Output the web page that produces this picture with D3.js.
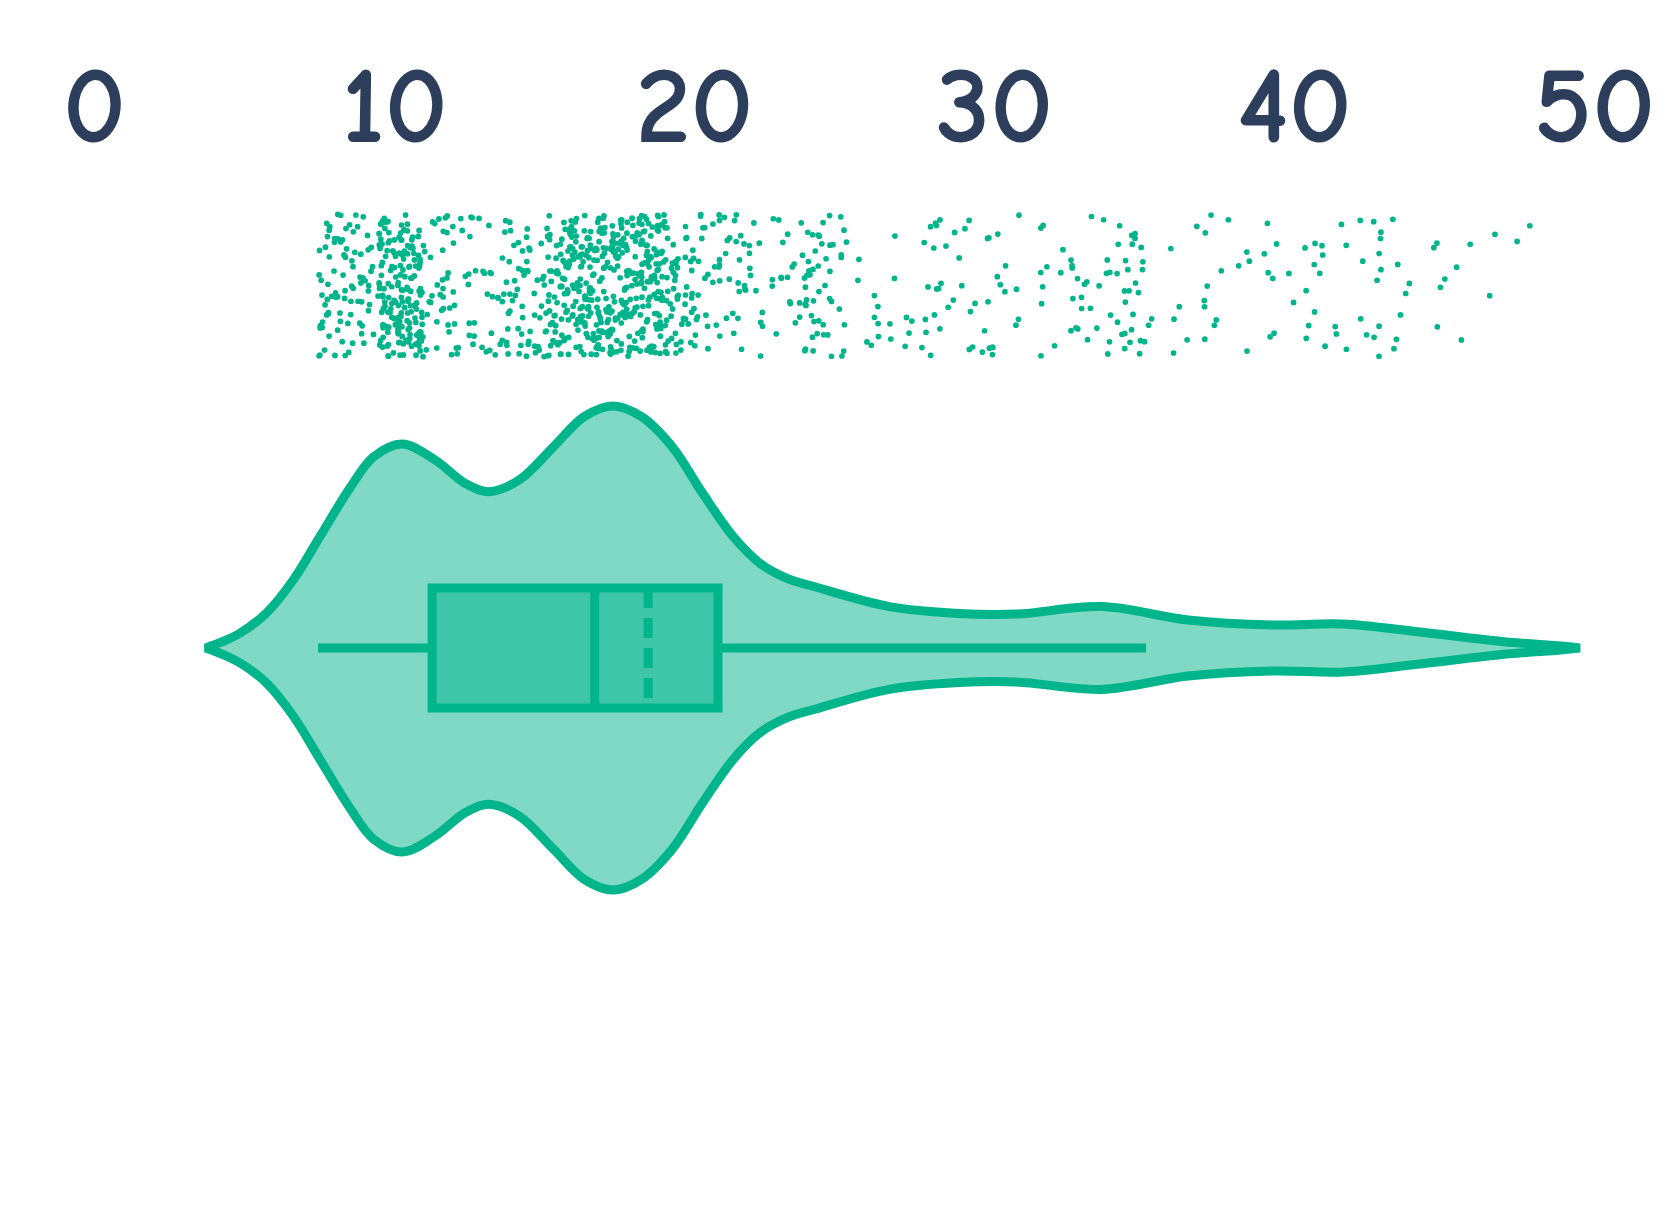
<!DOCTYPE html>
<html>
<head>
<meta charset="utf-8">
<script src="https://cdn.jsdelivr.net/npm/d3@7"></script>
<style>
  html, body { margin: 0; padding: 0; background: #ffffff; }
  svg { display: block; }
</style>
</head>
<body>
<svg id="chart" width="1680" height="1210"></svg>
<script>
// ---------------- data ----------------
const tickValues = [0, 10, 20, 30, 40, 50];

// violin outline: value and relative density (peak = 1)
const violinValues  = [3.72, 4.28, 4.86, 5.75, 6.64, 7.53, 8.56, 9.32, 10.28, 11.37, 12.38, 13.15, 14.17, 15.32, 16.34, 17.3, 18.25, 19.27, 20.29, 21.31, 22.2, 23.1, 24.03, 26.51, 28.81, 30.72, 33.59, 36.47, 39.33, 41.63, 44.12, 47.0, 48.9, 49.53];
const violinDensity = [0, 0.026, 0.061, 0.145, 0.281, 0.46, 0.667, 0.79, 0.843, 0.777, 0.68, 0.646, 0.694, 0.832, 0.956, 1.0, 0.956, 0.832, 0.639, 0.46, 0.35, 0.288, 0.253, 0.171, 0.143, 0.140, 0.171, 0.116, 0.095, 0.099, 0.067, 0.026, 0.008, 0];

// box plot statistics
const boxLabels = ["lowerWhisker", "q1", "median", "mean", "q3", "upperWhisker"];
const boxValues = [7.47, 11.27, 16.69, 18.47, 20.8, 35.07];

// observations, as counts per 0.5-wide bin starting at binStarts[i]
const binWidth = 0.5;
const binStarts = [7.5, 8, 8.5, 9, 9.5, 10, 10.5, 11, 11.5, 12, 12.5, 13, 13.5, 14, 14.5, 15, 15.5, 16, 16.5, 17, 17.5, 18, 18.5, 19, 19.5, 20, 20.5, 21, 21.5, 22, 22.5, 23, 23.5, 24, 24.5, 25, 25.5, 26, 26.5, 27, 27.5, 28, 28.5, 29, 29.5, 30, 30.5, 31, 31.5, 32, 32.5, 33, 33.5, 34, 34.5, 35, 35.5, 36, 36.5, 37, 37.5, 38, 38.5, 39, 39.5, 40, 40.5, 41, 41.5, 42, 42.5, 43, 43.5, 44, 44.5, 45, 45.5, 46, 46.5, 47, 47.5];
const binCounts = [26, 25, 23, 12, 60, 66, 55, 13, 20, 10, 12, 12, 20, 22, 15, 36, 50, 56, 56, 52, 52, 56, 54, 36, 22, 17, 11, 13, 13, 6, 8, 7, 23, 14, 14, 4, 2, 5, 4, 4, 8, 10, 4, 6, 9, 5, 4, 0, 7, 3, 10, 6, 8, 11, 15, 3, 3, 2, 1, 8, 2, 3, 1, 7, 2, 4, 6, 3, 3, 4, 9, 4, 3, 0, 4, 2, 2, 0, 2, 1, 1];

// ---------------- layout ----------------
const color = "#00b48b";
const textColor = "#2c3e5c";
const svg = d3.select("#chart");

const x = d3.scaleLinear().domain([0, 50]).range([94, 1594]);
const cy = 648;                                   // violin centre line
const w = d3.scaleLinear().domain([0, 1]).range([0, 242]);
const boxHalf = 60;
const lineW = 9;
const stripCenter = 285.5, stripHalf = 71.5;
const jit = d3.scaleLinear().domain([0, 1]).range([stripCenter - stripHalf, stripCenter + stripHalf]);

// axis labels on top
const axis = d3.axisTop(x).tickValues(tickValues).tickSize(0).tickPadding(0).tickFormat(d3.format("d"));
const gAxis = svg.append("g").attr("transform", `translate(0,142)`).call(axis);
gAxis.select(".domain").remove();
gAxis.selectAll("text")
  .attr("fill", textColor)
  .style("font-family", "'Comic Sans MS', 'Comic Neue', 'Open Sans', sans-serif")
  .style("font-weight", "bold")
  .style("font-size", "110px");

// deterministic hash for strip jitter (layout only, not data)
function hash01(n) {
  let t = (n + 0x6D2B79F5) | 0;
  t = Math.imul(t ^ (t >>> 15), t | 1);
  t ^= t + Math.imul(t ^ (t >>> 7), t | 61);
  return ((t ^ (t >>> 14)) >>> 0) / 4294967296;
}

// jittered strip of observations
const pts = [];
let idx = 0;
binStarts.forEach((b, i) => {
  for (let k = 0; k < binCounts[i]; k++) {
    pts.push({ v: b + binWidth * hash01(2 * idx + 1), j: hash01(2 * idx + 7919) });
    idx++;
  }
});
svg.append("g").selectAll("circle").data(pts).join("circle")
  .attr("cx", d => x(d.v))
  .attr("cy", d => jit(d.j))
  .attr("r", 2.85)
  .attr("fill", color);

// violin
const vdata = violinValues.map((v, i) => ({ v, d: violinDensity[i] }));
const area = d3.area()
  .x(d => x(d.v))
  .y0(d => cy - w(d.d))
  .y1(d => cy + w(d.d))
  .curve(d3.curveCatmullRom.alpha(0.5));
svg.append("path")
  .attr("d", area(vdata))
  .attr("fill", color).attr("fill-opacity", 0.5)
  .attr("stroke", color).attr("stroke-width", lineW)
  .attr("stroke-linejoin", "bevel");

// whiskers
const [lo, q1, med, mean, q3, hi] = boxValues;
svg.append("line")
  .attr("x1", x(lo)).attr("x2", x(q1)).attr("y1", cy).attr("y2", cy)
  .attr("stroke", color).attr("stroke-width", lineW);
svg.append("line")
  .attr("x1", x(q3)).attr("x2", x(hi)).attr("y1", cy).attr("y2", cy)
  .attr("stroke", color).attr("stroke-width", lineW);

// box
svg.append("rect")
  .attr("x", x(q1)).attr("y", cy - boxHalf)
  .attr("width", x(q3) - x(q1)).attr("height", 2 * boxHalf)
  .attr("fill", color).attr("fill-opacity", 0.5)
  .attr("stroke", color).attr("stroke-width", lineW);

// median
svg.append("line")
  .attr("x1", x(med)).attr("x2", x(med)).attr("y1", cy - boxHalf).attr("y2", cy + boxHalf)
  .attr("stroke", color).attr("stroke-width", lineW);

// mean (dashed)
svg.append("line")
  .attr("x1", x(mean)).attr("x2", x(mean)).attr("y1", cy - boxHalf).attr("y2", cy + boxHalf)
  .attr("stroke", color).attr("stroke-width", lineW)
  .attr("stroke-dasharray", "20,10");
</script>
</body>
</html>
